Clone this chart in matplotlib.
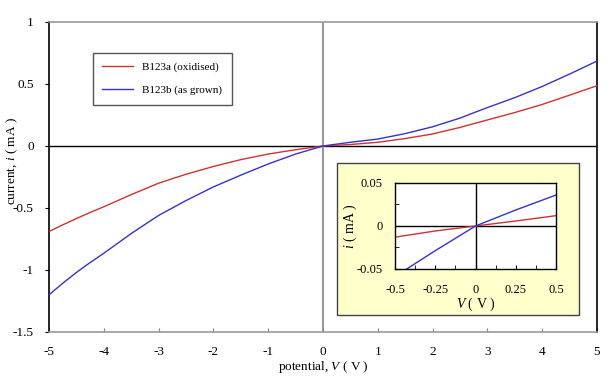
import matplotlib
matplotlib.use("Agg")
from matplotlib import pyplot as plt
from matplotlib.patches import Rectangle
from matplotlib.ticker import MultipleLocator

plt.rcParams['font.family'] = ['Liberation Serif', 'DejaVu Serif']
plt.rcParams['mathtext.fontset'] = 'custom'
plt.rcParams['mathtext.it'] = 'Liberation Serif:italic'
plt.rcParams['mathtext.rm'] = 'Liberation Serif'

# main sweep, -5 V to 5 V
volts = [-5, -4.75, -4.5, -4.25, -4, -3.5, -3, -2.5, -2, -1.5, -1, -0.5, 0,
         0.5, 1, 1.5, 2, 2.5, 3, 3.5, 4, 4.5, 5]
oxidised = [-0.69, -0.636, -0.585, -0.536, -0.49, -0.392, -0.30, -0.228, -0.165, -0.11, -0.065, -0.03, 0,
            0.012, 0.03, 0.06, 0.097, 0.15, 0.21, 0.27, 0.335, 0.41, 0.486]
as_grown = [-1.20, -1.107, -1.02, -0.94, -0.865, -0.706, -0.56, -0.44, -0.33, -0.235, -0.145, -0.065, 0,
            0.03, 0.056, 0.10, 0.155, 0.225, 0.31, 0.39, 0.48, 0.58, 0.685]

# inset, small bias
v_small_ox = [-0.5, -0.25, 0, 0.25, 0.5]
i_small_ox = [-0.013, -0.0058, 0, 0.0058, 0.012]
v_small_ag = [-0.427, -0.25, 0, 0.25, 0.5]
i_small_ag = [-0.05, -0.0287, 0, 0.0186, 0.036]

names = ['B123a (oxidised)', 'B123b (as grown)']
red = '#cc3333'
blue = '#3333cc'

fig = plt.figure(figsize=(6.15, 3.78), dpi=100)
ax = fig.add_axes([0.0797, 0.1217, 0.891, 0.8201])

ax.axhline(0, color='black', lw=1, zorder=1)
ax.axvline(0, color='#999999', lw=1.5, zorder=1)
ax.plot(volts, oxidised, color=red, lw=1, label=names[0], zorder=3)
ax.plot(volts, as_grown, color=blue, lw=1, label=names[1], zorder=3)

ax.set_xlim(-5, 5)
ax.set_ylim(-1.5, 1)
ax.set_xticks(range(-5, 6))
ax.set_xticklabels([str(v) for v in range(-5, 6)])
ax.set_yticks([-1.5, -1, -0.5, 0, 0.5, 1])
ax.set_yticklabels(['-1.5', '-1', '-0.5', '0', '0.5', '1'])
ax.tick_params(axis='x', direction='in', length=3, color='#888888', labelsize=9.5, pad=10)
ax.tick_params(axis='y', direction='out', length=3, color='black', labelsize=9.5, pad=8)
ax.spines['left'].set_color('black')
ax.spines['right'].set_color('black')
ax.spines['top'].set_color('#999999')
ax.spines['bottom'].set_color('#999999')
for s in ax.spines.values():
    s.set_linewidth(1.2)

ax.set_xlabel('potential, $V$ ( V )', fontsize=9.5, labelpad=1)
ax.set_ylabel('current, $i$ ( mA )', fontsize=9.5)
ax.yaxis.set_label_coords(-0.053, 0.55)

leg = ax.legend(loc='upper left', bbox_to_anchor=(0.151, 0.860),
                bbox_transform=fig.transFigure, fontsize=8,
                fancybox=False, edgecolor='#555555', framealpha=1,
                handlelength=2.8, handletextpad=0.8, borderpad=0.85,
                labelspacing=1.15, borderaxespad=0)
leg.get_frame().set_linewidth(1)

# inset panel
panel = Rectangle((0.548, 0.1667), 0.3935, 0.402, transform=fig.transFigure,
                  facecolor='#ffffcc', edgecolor='#444444', lw=1, zorder=5)
fig.patches.append(panel)

ins = fig.add_axes([0.6423, 0.2884, 0.2618, 0.2275])
ins.set_zorder(10)
ins.axhline(0, color='black', lw=1)
ins.axvline(0, color='black', lw=1)
ins.plot(v_small_ox, i_small_ox, color=red, lw=1)
ins.plot(v_small_ag, i_small_ag, color=blue, lw=1)
ins.set_xlim(-0.5, 0.5)
ins.set_ylim(-0.05, 0.05)
ins.set_xticks([-0.5, -0.25, 0, 0.25, 0.5])
ins.set_xticklabels(['-0.5', '-0.25', '0', '0.25', '0.5'])
ins.set_yticks([-0.05, 0, 0.05])
ins.set_yticklabels(['-0.05', '0', '0.05'])
ins.xaxis.set_minor_locator(MultipleLocator(0.125))
ins.yaxis.set_minor_locator(MultipleLocator(0.025))
ins.tick_params(which='both', direction='in', length=3, labelsize=9)
ins.tick_params(axis='x', pad=11)
ins.tick_params(axis='y', pad=9)
for s in ins.spines.values():
    s.set_linewidth(1)
ins.set_xlabel('$V$ ( V )', fontsize=10)
ins.xaxis.set_label_coords(0.5, -0.31)
ins.set_ylabel('$i$ ( mA )', fontsize=10)
ins.yaxis.set_label_coords(-0.225, 0.5)

fig.savefig('out.png', dpi=100)
